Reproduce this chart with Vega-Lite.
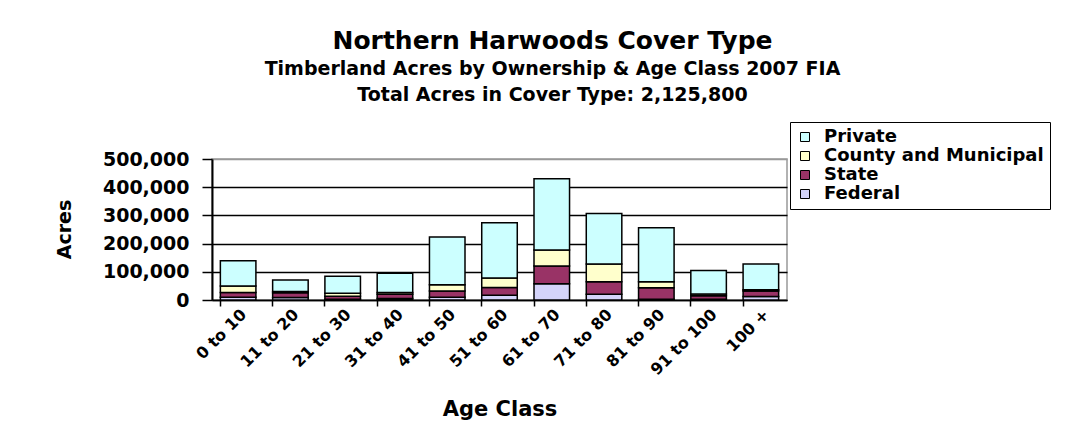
{
  "$schema": "https://vega.github.io/schema/vega-lite/v6.json",
  "width": 575,
  "height": 141,
  "autosize": {"type": "none"},
  "padding": {"left": 212, "top": 159, "right": 296, "bottom": 137},
  "background": "white",
  "title": {
    "text": "Northern Harwoods Cover Type",
    "subtitle": ["Timberland Acres by Ownership & Age Class 2007 FIA", "Total Acres in Cover Type:  2,125,800"],
    "anchor": "middle",
    "dx": 53,
    "offset": 17,
    "font": "DejaVu Sans",
    "fontSize": 25,
    "fontWeight": "bold",
    "color": "black",
    "subtitleFont": "DejaVu Sans",
    "subtitleFontSize": 19,
    "subtitleFontWeight": "bold",
    "subtitleColor": "black",
    "subtitleLineHeight": 26,
    "subtitlePadding": 6
  },
  "data": {
    "values": [
      {"age": "0 to 10", "owner": "Federal", "rank": 1, "acres": 10000},
      {"age": "0 to 10", "owner": "State", "rank": 2, "acres": 17000},
      {"age": "0 to 10", "owner": "County and Municipal", "rank": 3, "acres": 23000},
      {"age": "0 to 10", "owner": "Private", "rank": 4, "acres": 89000},
      {"age": "11 to 20", "owner": "Federal", "rank": 1, "acres": 9000},
      {"age": "11 to 20", "owner": "State", "rank": 2, "acres": 17000},
      {"age": "11 to 20", "owner": "County and Municipal", "rank": 3, "acres": 4000},
      {"age": "11 to 20", "owner": "Private", "rank": 4, "acres": 41000},
      {"age": "21 to 30", "owner": "Federal", "rank": 1, "acres": 3000},
      {"age": "21 to 30", "owner": "State", "rank": 2, "acres": 10000},
      {"age": "21 to 30", "owner": "County and Municipal", "rank": 3, "acres": 11000},
      {"age": "21 to 30", "owner": "Private", "rank": 4, "acres": 60000},
      {"age": "31 to 40", "owner": "Federal", "rank": 1, "acres": 5000},
      {"age": "31 to 40", "owner": "State", "rank": 2, "acres": 15000},
      {"age": "31 to 40", "owner": "County and Municipal", "rank": 3, "acres": 7000},
      {"age": "31 to 40", "owner": "Private", "rank": 4, "acres": 68000},
      {"age": "41 to 50", "owner": "Federal", "rank": 1, "acres": 10000},
      {"age": "41 to 50", "owner": "State", "rank": 2, "acres": 22000},
      {"age": "41 to 50", "owner": "County and Municipal", "rank": 3, "acres": 22000},
      {"age": "41 to 50", "owner": "Private", "rank": 4, "acres": 169000},
      {"age": "51 to 60", "owner": "Federal", "rank": 1, "acres": 17000},
      {"age": "51 to 60", "owner": "State", "rank": 2, "acres": 27000},
      {"age": "51 to 60", "owner": "County and Municipal", "rank": 3, "acres": 34000},
      {"age": "51 to 60", "owner": "Private", "rank": 4, "acres": 196000},
      {"age": "61 to 70", "owner": "Federal", "rank": 1, "acres": 58000},
      {"age": "61 to 70", "owner": "State", "rank": 2, "acres": 63000},
      {"age": "61 to 70", "owner": "County and Municipal", "rank": 3, "acres": 56000},
      {"age": "61 to 70", "owner": "Private", "rank": 4, "acres": 253000},
      {"age": "71 to 80", "owner": "Federal", "rank": 1, "acres": 20000},
      {"age": "71 to 80", "owner": "State", "rank": 2, "acres": 45000},
      {"age": "71 to 80", "owner": "County and Municipal", "rank": 3, "acres": 63000},
      {"age": "71 to 80", "owner": "Private", "rank": 4, "acres": 179000},
      {"age": "81 to 90", "owner": "Federal", "rank": 1, "acres": 3000},
      {"age": "81 to 90", "owner": "State", "rank": 2, "acres": 40000},
      {"age": "81 to 90", "owner": "County and Municipal", "rank": 3, "acres": 22000},
      {"age": "81 to 90", "owner": "Private", "rank": 4, "acres": 191000},
      {"age": "91 to 100", "owner": "Federal", "rank": 1, "acres": 3000},
      {"age": "91 to 100", "owner": "State", "rank": 2, "acres": 12000},
      {"age": "91 to 100", "owner": "County and Municipal", "rank": 3, "acres": 6000},
      {"age": "91 to 100", "owner": "Private", "rank": 4, "acres": 84000},
      {"age": "100 +", "owner": "Federal", "rank": 1, "acres": 12000},
      {"age": "100 +", "owner": "State", "rank": 2, "acres": 20000},
      {"age": "100 +", "owner": "County and Municipal", "rank": 3, "acres": 4000},
      {"age": "100 +", "owner": "Private", "rank": 4, "acres": 92000}
    ]
  },
  "layer": [
    {
      "mark": {"type": "bar", "stroke": "black", "strokeWidth": 1.5},
      "encoding": {
        "x": {
          "field": "age", "type": "nominal", "sort": null,
          "scale": {"paddingInner": 0.32, "paddingOuter": 0.16},
          "axis": {
            "orient": "bottom",
            "title": "Age Class",
            "titleFont": "DejaVu Sans", "titleFontSize": 21, "titleFontWeight": "bold", "titleColor": "black",
            "titleBaseline": "alphabetic", "titleY": 115,
            "labelAngle": -45, "labelFont": "DejaVu Sans", "labelFontSize": 16, "labelFontWeight": "bold", "labelColor": "black",
            "labelPadding": 6, "labelOverlap": false,
            "ticks": false, "domain": false, "grid": false
          }
        },
        "y": {
          "field": "acres", "type": "quantitative", "aggregate": "sum", "stack": "zero",
          "scale": {"domain": [0, 500000], "nice": false},
          "axis": {
            "title": "Acres",
            "titleFont": "DejaVu Sans", "titleFontSize": 19, "titleFontWeight": "bold", "titleColor": "black",
            "titleX": -142, "titleY": 70, "titleAngle": -90, "titleAlign": "center", "titleBaseline": "alphabetic",
            "values": [0, 100000, 200000, 300000, 400000, 500000],
            "format": ",d",
            "labelFont": "DejaVu Sans", "labelFontSize": 19, "labelFontWeight": "bold", "labelColor": "black",
            "labelPadding": 13, "labelOverlap": false, "labelBound": false, "labelFlush": false,
            "tickColor": "black", "tickSize": 10, "tickWidth": 1.5,
            "domainColor": "black", "domainWidth": 2,
            "grid": true,
            "gridColor": {"condition": {"test": "datum.value >= 500000", "value": "#999999"}, "value": "black"},
            "gridWidth": 1.5
          }
        },
        "color": {
          "field": "owner", "type": "nominal",
          "scale": {
            "domain": ["Private", "County and Municipal", "State", "Federal"],
            "range": ["#CCFFFF", "#FFFFCC", "#993366", "#D4D4FA"]
          },
          "legend": {
            "title": null,
            "orient": "none",
            "legendX": 578,
            "legendY": -37,
            "symbolType": "square",
            "symbolSize": 81,
            "symbolStrokeColor": "black",
            "symbolStrokeWidth": 1,
            "labelFont": "DejaVu Sans", "labelFontSize": 18, "labelFontWeight": "bold", "labelColor": "black",
            "labelLimit": 400,
            "labelOffset": 10,
            "rowPadding": 1,
            "strokeColor": "black",
            "padding": 6,
            "fillColor": "white"
          }
        },
        "order": {"field": "rank", "type": "quantitative"}
      }
    },
    {
      "mark": {"type": "bar", "opacity": 0},
      "encoding": {
        "x": {
          "field": "age", "type": "nominal", "sort": null,
          "axis": {
            "orient": "bottom",
            "title": null, "labels": false, "grid": false,
            "bandPosition": 0,
            "ticks": true, "tickColor": "black", "tickSize": 6, "tickWidth": 1.5,
            "domain": true, "domainColor": "black", "domainWidth": 1.5
          }
        }
      }
    }
  ],
  "resolve": {"axis": {"x": "independent"}},
  "config": {
    "view": {"stroke": "#999999", "strokeWidth": 1.5}
  }
}
